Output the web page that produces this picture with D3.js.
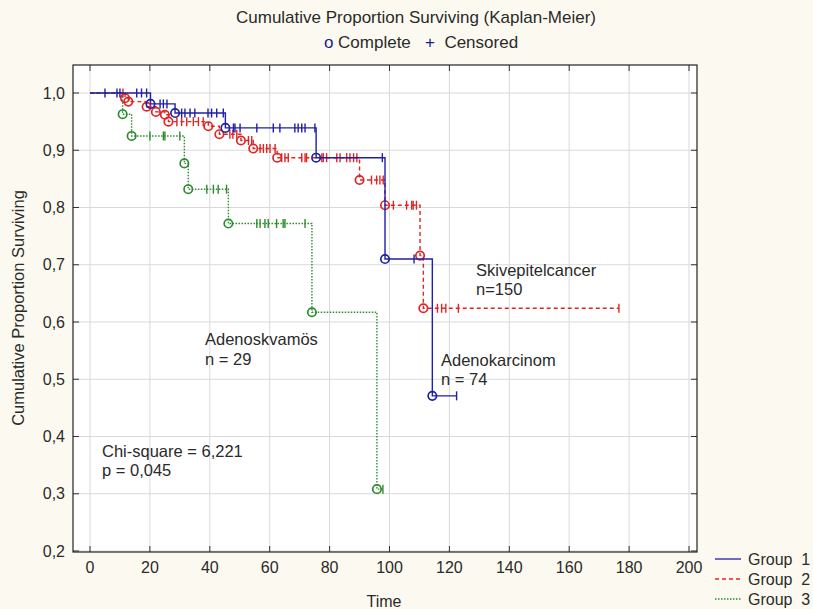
<!DOCTYPE html>
<html>
<head>
<meta charset="utf-8">
<script src="https://cdn.jsdelivr.net/npm/d3@7"></script>
<style>
  body { margin: 0; background: #fcfaf0; }
  svg text { font-family: "Liberation Sans", Arial, sans-serif; fill: #2a2a2a; }
</style>
</head>
<body>
<svg class="svg1" width="813" height="609"></svg>
<script>
// Group 1 (Adenokarcinom), time/survival at each complete event
var g1Time = [20.2, 28.4, 45.2, 75.5, 98.5, 114.3];
var g1Surv = [0.981, 0.965, 0.939, 0.887, 0.710, 0.471];
var g1Cens = [5, 9, 10, 15.6, 17.2, 18.9, 23.4, 24.5, 25.7, 30.6, 31.7, 33.4, 35, 39.4, 40.6, 42.3, 44.5,
              47.9, 48.4, 50.1, 55.7, 61.2, 63.4, 68.4, 69.5, 70.7, 71.8, 75.1, 97.6, 108.2, 122.4];

// Group 2 (Skivepitelcancer)
var g2Time = [11.7, 12.8, 18.9, 22, 25, 26.2, 39.5, 43.2, 50.4, 54.5, 62.5, 90, 98.5, 110.2, 111.3];
var g2Surv = [0.991, 0.985, 0.976, 0.967, 0.962, 0.95, 0.942, 0.928, 0.917, 0.903, 0.887, 0.848, 0.804, 0.716, 0.624];
var g2Cens = [11, 29, 30.6, 32.3, 34.5, 36.2, 37.8, 46.7, 47.7, 49, 52.9, 54, 56.8, 57.9, 59, 60.1, 61.8,
              64, 65.1, 66.2, 70.7, 71.8, 72.3, 77.4, 77.9, 79, 82.4, 83.5, 85.7, 86.8, 88, 89.1,
              94, 95.7, 96.8, 97.9, 101.3, 105.7, 107.4, 107.9, 109, 116, 117.4, 118.8, 123, 176.6];

// Group 3 (Adenoskvamös)
var g3Time = [10.9, 13.9, 31.5, 32.8, 46.2, 74.1, 95.8];
var g3Surv = [0.963, 0.925, 0.877, 0.832, 0.772, 0.617, 0.308];
var g3Cens = [20, 24.5, 25, 30, 39, 41.2, 42.8, 45.6, 55.7, 56.8, 58.4, 59.5, 62.3, 64.5, 65.1, 71.8, 97.8];

var xTicks = [0, 20, 40, 60, 80, 100, 120, 140, 160, 180, 200];
var yTicks = [0.2, 0.3, 0.4, 0.5, 0.6, 0.7, 0.8, 0.9, 1.0];
var groupNames = ["Group  1", "Group  2", "Group  3"];

var svg = d3.select(".svg1");
var box = {left: 73, right: 697, top: 65, bottom: 552};

var x = d3.scaleLinear().domain([0, 200]).range([90, 689]),
    y = d3.scaleLinear().domain([0.2, 1.0]).range([551, 93]);

var fmt = function(v) { return d3.format(".1f")(v).replace(".", ","); };

// plot area
svg.append("rect")
    .attr("x", box.left).attr("y", box.top)
    .attr("width", box.right - box.left).attr("height", box.bottom - box.top)
    .attr("fill", "#fff");

// grid
svg.append("g").selectAll("line")
  .data(xTicks).enter().append("line")
    .attr("x1", function(d) { return x(d); }).attr("x2", function(d) { return x(d); })
    .attr("y1", box.top).attr("y2", box.bottom)
    .attr("stroke", "#d9d9d9");
svg.append("g").selectAll("line")
  .data(yTicks).enter().append("line")
    .attr("y1", function(d) { return y(d); }).attr("y2", function(d) { return y(d); })
    .attr("x1", box.left).attr("x2", box.right)
    .attr("stroke", "#d9d9d9");

// ticks inside the frame
var tk = svg.append("g").attr("stroke", "#333");
xTicks.forEach(function(d) {
  tk.append("line").attr("x1", x(d)).attr("x2", x(d)).attr("y1", box.bottom).attr("y2", box.bottom - 6);
  tk.append("line").attr("x1", x(d)).attr("x2", x(d)).attr("y1", box.top).attr("y2", box.top + 6);
});
yTicks.forEach(function(d) {
  tk.append("line").attr("y1", y(d)).attr("y2", y(d)).attr("x1", box.left).attr("x2", box.left + 6);
  tk.append("line").attr("y1", y(d)).attr("y2", y(d)).attr("x1", box.right).attr("x2", box.right - 6);
});

svg.append("rect")
    .attr("x", box.left).attr("y", box.top)
    .attr("width", box.right - box.left).attr("height", box.bottom - box.top)
    .attr("fill", "none").attr("stroke", "#222").attr("stroke-width", 1.2);

// tick labels
svg.append("g").selectAll("text")
  .data(xTicks).enter().append("text")
    .attr("x", function(d) { return x(d); })
    .attr("y", 573)
    .attr("text-anchor", "middle")
    .style("font-size", "16px")
    .text(function(d) { return d; });
svg.append("g").selectAll("text")
  .data(yTicks).enter().append("text")
    .attr("x", 65)
    .attr("y", function(d) { return y(d); })
    .attr("dy", "0.35em")
    .attr("text-anchor", "end")
    .style("font-size", "16px")
    .text(fmt);

// titles
svg.append("text").attr("x", 416).attr("y", 23).attr("text-anchor", "middle")
    .style("font-size", "17px").text("Cumulative Proportion Surviving (Kaplan-Meier)");
var sub = svg.append("text").attr("x", 421).attr("y", 48).attr("text-anchor", "middle")
    .style("font-size", "17px").attr("xml:space", "preserve");
sub.append("tspan").style("fill", "#1a1a8c").text("o");
sub.append("tspan").text(" Complete   ");
sub.append("tspan").style("fill", "#1a1a8c").text("+");
sub.append("tspan").text("  Censored");

svg.append("text")
    .attr("transform", "translate(24,308) rotate(-90)")
    .attr("text-anchor", "middle")
    .style("font-size", "16.5px")
    .text("Cumulative Proportion Surviving");
svg.append("text").attr("x", 384).attr("y", 607).attr("text-anchor", "middle")
    .style("font-size", "16px").text("Time");

// curves
var groups = [
  {time: g1Time, surv: g1Surv, cens: g1Cens, color: "#1f1fa8", dash: null},
  {time: g2Time, surv: g2Surv, cens: g2Cens, color: "#e02424", dash: "4,3"},
  {time: g3Time, surv: g3Surv, cens: g3Cens, color: "#2e8b2e", dash: "1.5,1.5"}
];

var line = d3.line()
    .curve(d3.curveStepAfter)
    .x(function(d) { return x(d.t); })
    .y(function(d) { return y(d.s); });

var survAt = function(g, t) {
  var s = 1;
  g.time.forEach(function(tt, i) { if (tt <= t) s = g.surv[i]; });
  return s;
};

var plot = svg.append("g");
// draw group 3 first, then 2, then 1 on top
[2, 1, 0].forEach(function(gi) {
  var g = groups[gi];
  var pts = [{t: 0, s: 1}];
  g.time.forEach(function(t, i) { pts.push({t: t, s: g.surv[i]}); });
  var tEnd = d3.max([d3.max(g.cens), d3.max(g.time)]);
  pts.push({t: tEnd, s: survAt(g, tEnd)});

  plot.append("path")
      .attr("d", line(pts))
      .attr("fill", "none")
      .attr("stroke", g.color)
      .attr("stroke-width", 1.4)
      .attr("stroke-dasharray", g.dash);

  plot.append("g").selectAll("line")
    .data(g.cens).enter().append("line")
      .attr("x1", function(d) { return x(d); }).attr("x2", function(d) { return x(d); })
      .attr("y1", function(d) { return y(survAt(g, d)) - 4.5; })
      .attr("y2", function(d) { return y(survAt(g, d)) + 4.5; })
      .attr("stroke", g.color).attr("stroke-width", 1.4);

  plot.append("g").selectAll("circle")
    .data(g.time).enter().append("circle")
      .attr("cx", function(d) { return x(d); })
      .attr("cy", function(d, i) { return y(g.surv[i]); })
      .attr("r", 4.2)
      .attr("fill", "none")
      .attr("stroke", g.color).attr("stroke-width", 1.7);
});

// annotations
var notes = [
  ["Skivepitelcancer", 476, 276], ["n=150", 476, 295],
  ["Adenoskvamös", 205, 345], ["n = 29", 205, 365],
  ["Adenokarcinom", 441, 366], ["n = 74", 441, 385],
  ["Chi-square = 6,221", 102, 457], ["p = 0,045", 102, 476]
];
svg.append("g").selectAll("text")
  .data(notes).enter().append("text")
    .attr("x", function(d) { return d[1]; })
    .attr("y", function(d) { return d[2]; })
    .style("font-size", "16.5px")
    .text(function(d) { return d[0]; });

// legend
var leg = svg.append("g");
groups.forEach(function(g, i) {
  var ly = 559 + i * 20;
  leg.append("line").attr("x1", 715).attr("x2", 741).attr("y1", ly).attr("y2", ly)
      .attr("stroke", g.color).attr("stroke-width", 1.3).attr("stroke-dasharray", g.dash);
  leg.append("text").attr("x", 748).attr("y", ly).attr("dy", "0.35em")
      .attr("xml:space", "preserve")
      .style("font-size", "16px").text(groupNames[i]);
});
</script>
</body>
</html>
